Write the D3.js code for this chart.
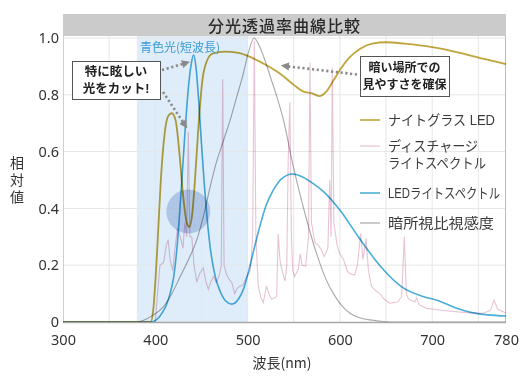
<!DOCTYPE html>
<html><head><meta charset="utf-8">
<script src="https://cdn.jsdelivr.net/npm/d3@7"></script>
<style>
html,body{margin:0;padding:0;background:#fff;}
svg{display:block;font-family:"Noto Sans CJK JP","Noto Sans",sans-serif;}
.tight{font-family:"Liberation Sans","Noto Sans CJK JP",sans-serif;}
</style></head><body>
<svg id="c" width="530" height="382"></svg>
<script>
const title = "分光透過率曲線比較";
const xTicks = [300,400,500,600,700,780];
const yTicks = [0,0.2,0.4,0.6,0.8,1.0];
const yTickLabels = ["0","0.2","0.4","0.6","0.8","1.0"];
const xLabel = "波長(nm)";
const yLabel = ["相","対","値"];
const blueBand = [380,500];
const blueBandLabel = "青色光(短波長)";
const highlight = [435.8,0.389];
const seriesNames = ["ナイトグラス LED",["ディスチャージ","ライトスペクトル"],"LEDライトスペクトル","暗所視比視感度"];
const callout1 = ["特に眩しい","光をカット!"];
const callout2 = ["暗い場所での","見やすさを確保"];

const nightGlass = [[300,0],[395,0],[398,0.05],[402,0.25],[406,0.5],[410,0.66],[414,0.725],[418,0.735],[422,0.71],[426,0.6],[430,0.45],[434,0.35],[437,0.335],[440,0.38],[443,0.5],[447,0.7],[451,0.85],[456,0.92],[462,0.945],[475,0.952],[490,0.948],[505,0.93],[520,0.905],[535,0.875],[550,0.835],[560,0.812],[570,0.805],[578,0.795],[585,0.81],[593,0.85],[600,0.887],[610,0.93],[622,0.962],[635,0.98],[650,0.985],[670,0.98],[700,0.968],[730,0.948],[755,0.927],[780,0.908]];
const discharge = [[300,0],[400,0],[403,0.12],[405,0.2],[409,0.21],[412,0.27],[414,0.29],[416,0.22],[419,0.18],[421,0.25],[424,0.33],[427,0.3],[430,0.26],[432,0.35],[434,0.3],[435.8,0.67],[437.5,0.3],[439.5,0.3],[442,0.2],[445,0.14],[448,0.17],[452,0.19],[455,0.14],[457.5,0.115],[460,0.14],[463,0.16],[466,0.14],[469,0.16],[471.5,0.2],[473,0.855],[474.5,0.2],[477,0.17],[480,0.15],[483,0.138],[486,0.1],[489,0.12],[492,0.127],[495,0.13],[499,0.16],[503,0.18],[505.5,0.3],[507.3,0.99],[509,0.3],[511.5,0.13],[514,0.09],[517,0.068],[520.5,0.127],[523,0.1],[526,0.08],[529,0.085],[531.5,0.09],[533.2,0.31],[535,0.22],[537,0.186],[540.5,0.144],[542.5,0.2],[544,0.57],[545.8,0.775],[547.5,0.3],[549,0.18],[551,0.16],[555,0.187],[557,0.24],[559,0.2],[563,0.197],[566,0.3],[567.6,0.913],[569.2,0.35],[573,0.28],[576.6,0.27],[579.5,0.257],[583,0.23],[587,0.26],[589,0.5],[590.5,0.3],[591.8,0.895],[593.5,0.35],[597,0.27],[600,0.24],[604,0.22],[608,0.18],[611,0.17],[616,0.165],[619,0.2],[622.5,0.312],[625,0.22],[628.3,0.295],[631,0.18],[634.4,0.124],[639,0.11],[643.4,0.1],[648,0.08],[654,0.066],[663,0.071],[667,0.09],[669.8,0.3],[672,0.1],[674,0.083],[678,0.075],[681.4,0.071],[683,0.085],[686,0.06],[694,0.048],[708,0.042],[720,0.038],[737,0.033],[755,0.031],[763,0.04],[767,0.077],[771,0.045],[780,0.032]];
const ledSpectrum = [[300,0],[396,0],[402,0.01],[408,0.035],[412,0.06],[416,0.1],[420,0.16],[424,0.28],[428,0.46],[432,0.66],[436,0.83],[439,0.91],[441.5,0.94],[444,0.9],[447,0.78],[450,0.63],[453,0.49],[456,0.37],[460,0.25],[465,0.16],[470,0.11],[476,0.075],[483,0.063],[490,0.08],[496,0.12],[502,0.19],[508,0.27],[514,0.345],[520,0.41],[528,0.465],[537,0.505],[549,0.521],[560,0.51],[570,0.49],[582,0.46],[600,0.394],[620,0.3],[643,0.2],[667,0.124],[690,0.09],[707,0.075],[725,0.05],[743,0.033],[760,0.025],[780,0.021]];
const scotopic = [[300,0],[380,0],[390,0.01],[398,0.025],[409,0.054],[418,0.1],[427,0.16],[436,0.22],[445,0.29],[452,0.37],[459,0.47],[466,0.56],[474,0.64],[481,0.71],[488,0.79],[495,0.87],[501,0.95],[507,1.0],[513,0.97],[519,0.92],[525,0.86],[532,0.79],[539,0.71],[548,0.57],[556,0.46],[564,0.36],[571,0.28],[578,0.21],[585,0.15],[593,0.1],[602,0.058],[611,0.031],[622,0.014],[636,0.006],[655,0],[780,0]];

const colors = ["#c0a53c","#e9c3d5","#4aaed9","#a9a9a9"];

const svg = d3.select("#c");
const L=63,R=506,T=36,B=322;
const x = d3.scaleLinear().domain([300,780]).range([L,R]);
const y = d3.scaleLinear().domain([0,1]).range([B,38]);

// header
svg.append("rect").attr("x",L).attr("y",14).attr("width",R-L).attr("height",T-14).attr("fill","#cbcbcb");
svg.append("text").attr("x",(L+R)/2).attr("y",25).attr("text-anchor","middle").attr("dominant-baseline","central")
  .attr("font-size",16).attr("fill","#2a2a2a").attr("font-weight",500).attr("letter-spacing",1).text(title);

// blue band
svg.append("rect").attr("x",x(blueBand[0])).attr("y",T).attr("width",x(blueBand[1])-x(blueBand[0])).attr("height",B-T).attr("fill","#deedf9");

// grid
const gx = d3.range(350,780,50);
svg.append("g").selectAll("line").data(gx).join("line")
  .attr("x1",d=>x(d)).attr("x2",d=>x(d)).attr("y1",T).attr("y2",B).attr("stroke","#e6e6e6").attr("stroke-width",1);
svg.append("g").selectAll("line").data(yTicks.slice(1)).join("line")
  .attr("x1",L).attr("x2",R).attr("y1",d=>y(d)).attr("y2",d=>y(d)).attr("stroke","#e6e6e6").attr("stroke-width",1);

// frame
svg.append("line").attr("x1",L+0.5).attr("x2",L+0.5).attr("y1",T).attr("y2",B).attr("stroke","#cfcfcf");
svg.append("line").attr("x1",R-0.5).attr("x2",R-0.5).attr("y1",T).attr("y2",B).attr("stroke","#bdbdbd");

// highlight circle
svg.append("circle").attr("cx",x(highlight[0])).attr("cy",y(highlight[1])).attr("r",22).attr("fill","#5a7fc6").attr("opacity",0.36);

// lines
const lineS = d3.line().x(d=>x(d[0])).y(d=>y(d[1])).curve(d3.curveMonotoneX);
const lineL = d3.line().x(d=>x(d[0])).y(d=>y(d[1]));
const g = svg.append("g");
g.append("path").datum(discharge).attr("d",lineL).attr("fill","none").attr("stroke",colors[1]).attr("stroke-width",1.1).style("mix-blend-mode","multiply");
g.append("path").datum(scotopic).attr("d",lineS).attr("fill","none").attr("stroke",colors[3]).attr("stroke-width",1.1).style("mix-blend-mode","multiply");
g.append("path").datum(ledSpectrum).attr("d",lineS).attr("fill","none").attr("stroke",colors[2]).attr("stroke-width",1.6).style("mix-blend-mode","multiply");
g.append("path").datum(nightGlass).attr("d",lineS).attr("fill","none").attr("stroke",colors[0]).attr("stroke-width",1.8).style("mix-blend-mode","multiply");

// bottom axis line
svg.append("line").attr("x1",L).attr("x2",R).attr("y1",B+0.5).attr("y2",B+0.5).attr("stroke","#a8a8a8").attr("stroke-width",1.5);

// axes
const xa = svg.append("g").attr("transform",`translate(0,${B})`)
  .call(d3.axisBottom(x).tickValues(xTicks).tickSize(0).tickPadding(13).tickFormat(d3.format("d")));
xa.select(".domain").remove();
xa.selectAll("text").attr("font-size",14.5).attr("fill","#333").attr("font-family","'Noto Sans','Noto Sans CJK JP',sans-serif");
const ya = svg.append("g").attr("transform",`translate(${L},0)`)
  .call(d3.axisLeft(y).tickValues(yTicks).tickSize(0).tickPadding(4).tickFormat((d,i)=>yTickLabels[i]));
ya.select(".domain").remove();
ya.selectAll("text").attr("font-size",14.5).attr("fill","#333").attr("font-family","'Noto Sans','Noto Sans CJK JP',sans-serif");

// axis titles
svg.append("text").attr("x",282).attr("y",362).attr("text-anchor","middle").attr("dominant-baseline","central")
  .attr("font-size",14).attr("fill","#333").text(xLabel);
svg.append("g").selectAll("text").data(yLabel).join("text").attr("class","tight")
  .attr("x",17).attr("y",(d,i)=>168+i*17).attr("text-anchor","middle")
  .attr("font-size",14).attr("fill","#333").text(d=>d);

// blue band label
svg.append("text").attr("x",180).attr("y",46.5).attr("text-anchor","middle").attr("dominant-baseline","central")
  .attr("font-size",12).attr("fill","#3a9bd6").text(blueBandLabel);

// arrows
const defs = svg.append("defs");
defs.append("marker").attr("id","ah").attr("viewBox","0 0 10 10").attr("refX",5).attr("refY",5)
  .attr("markerWidth",3.2).attr("markerHeight",3.2).attr("orient","auto")
  .append("path").attr("d","M0,0L10,5L0,10z").attr("fill","#8a8a8a");
function arrow(x1,y1,x2,y2){
  svg.append("line").attr("x1",x1).attr("y1",y1).attr("x2",x2).attr("y2",y2)
    .attr("stroke","#8a8a8a").attr("stroke-width",2.6).attr("stroke-dasharray","2.2,2.6").attr("marker-end","url(#ah)");
}
arrow(162,70,186,63);
arrow(163,92,185,125);
arrow(357,74.5,285,66);

// callout boxes
function callout(x0,y0,w,h,lines,fs){
  svg.append("rect").attr("x",x0+0.5).attr("y",y0+0.5).attr("width",w).attr("height",h)
    .attr("fill","#fff").attr("stroke","#555").attr("stroke-width",1);
  svg.append("g").selectAll("text").data(lines).join("text").attr("class","tight")
    .attr("x",x0+w/2).attr("y",(d,i)=>y0+h/2+(i-0.5)*17+4.5).attr("text-anchor","middle")
    .attr("font-size",fs).attr("font-weight",700).attr("fill","#222").text(d=>d);
}
callout(72,61,88,38,callout1,12.5);
callout(360,56,89,40,callout2,12);

// legend
const legY = [120,146,193,223];
const legW = [[107],[90,98],[112],[106]];
const lg = svg.append("g");
seriesNames.forEach((n,i)=>{
  lg.append("line").attr("x1",360).attr("x2",380).attr("y1",legY[i]).attr("y2",legY[i]).attr("stroke",colors[i]).attr("stroke-width",i===0||i===2?1.6:1.2);
  const lines = Array.isArray(n)?n:[n];
  lines.forEach((s,j)=>{
    lg.append("text").attr("class","tight").attr("x",388).attr("y",legY[i]+5+j*16.5)
      .attr("font-size",14).attr("fill","#3a3a3a")
      .attr("textLength",legW[i][j]).attr("lengthAdjust","spacingAndGlyphs").text(s);
  });
});
</script></body></html>
